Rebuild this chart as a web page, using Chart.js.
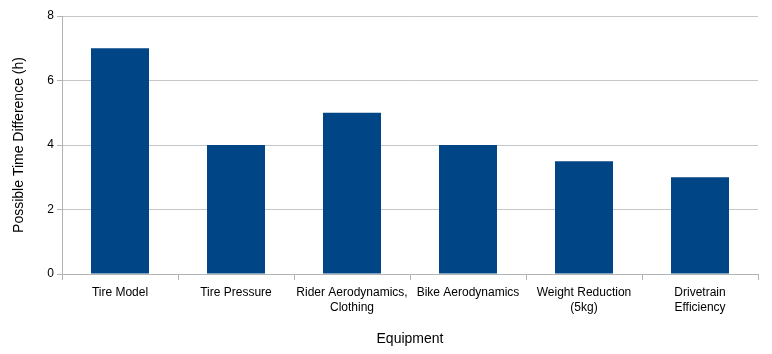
<!DOCTYPE html>
<html>
<head>
<meta charset="utf-8">
<script src="https://cdn.jsdelivr.net/npm/chart.js@4"></script>
<style>
  html, body { margin: 0; padding: 0; background: #ffffff; }
  #wrap { width: 772px; height: 354px; }
</style>
</head>
<body>
<div id="wrap"><canvas id="equipChart"></canvas></div>
<script>
const categories = [
    'Tire Model',
    'Tire Pressure',
    ['Rider Aerodynamics,', 'Clothing'],
    'Bike Aerodynamics',
    ['Weight Reduction', '(5kg)'],
    ['Drivetrain', 'Efficiency']
];
const timeDiff = [7, 4, 5, 4, 3.5, 3];
const yTicks = [0, 2, 4, 6, 8];

const lineGray = '#b3b3b3';
const labelFont = { family: "'Liberation Sans', Arial, sans-serif", size: 12, lineHeight: 1.25 };

const ctx = document.getElementById('equipChart');
new Chart(ctx, {
    type: 'bar',
    data: {
        labels: categories,
        datasets: [
            {
                data: timeDiff,
                backgroundColor: '#004586',
                categoryPercentage: 0.5,
                barPercentage: 1.0
            }
        ]
    },
    options: {
        responsive: true,
        maintainAspectRatio: false,
        animation: false,
        layout: { padding: { top: 16, right: 14, bottom: 0, left: 0 } },
        plugins: {
            legend: { display: false },
            tooltip: { enabled: false }
        },
        scales: {
            x: {
                afterFit: (scale) => { scale.height = 80; },
                grid: {
                    offset: true,
                    drawOnChartArea: true,
                    color: (c) => c.index === categories.length ? lineGray : 'rgba(0,0,0,0)',
                    tickColor: lineGray,
                    tickLength: 6
                },
                border: { color: lineGray },
                ticks: {
                    color: '#000000',
                    font: labelFont,
                    maxRotation: 0,
                    autoSkip: false,
                    padding: 5
                },
                title: {
                    display: true,
                    text: 'Equipment',
                    color: '#000000',
                    font: { family: "'Liberation Sans', Arial, sans-serif", size: 14 },
                    padding: { top: 4, bottom: 6 }
                }
            },
            y: {
                min: 0,
                max: 8,
                afterFit: (scale) => { scale.width = 62; },
                afterBuildTicks: (scale) => { scale.ticks = yTicks.map(v => ({ value: v })); },
                grid: {
                    color: '#c6c6c6',
                    tickColor: lineGray,
                    tickLength: 5
                },
                border: { color: lineGray },
                ticks: {
                    color: '#000000',
                    font: labelFont,
                    padding: 3
                },
                title: {
                    display: true,
                    text: 'Possible Time Difference (h)',
                    color: '#000000',
                    font: { family: "'Liberation Sans', Arial, sans-serif", size: 14 },
                    padding: { top: 11, bottom: 0 }
                }
            }
        }
    }
});
</script>
</body>
</html>
